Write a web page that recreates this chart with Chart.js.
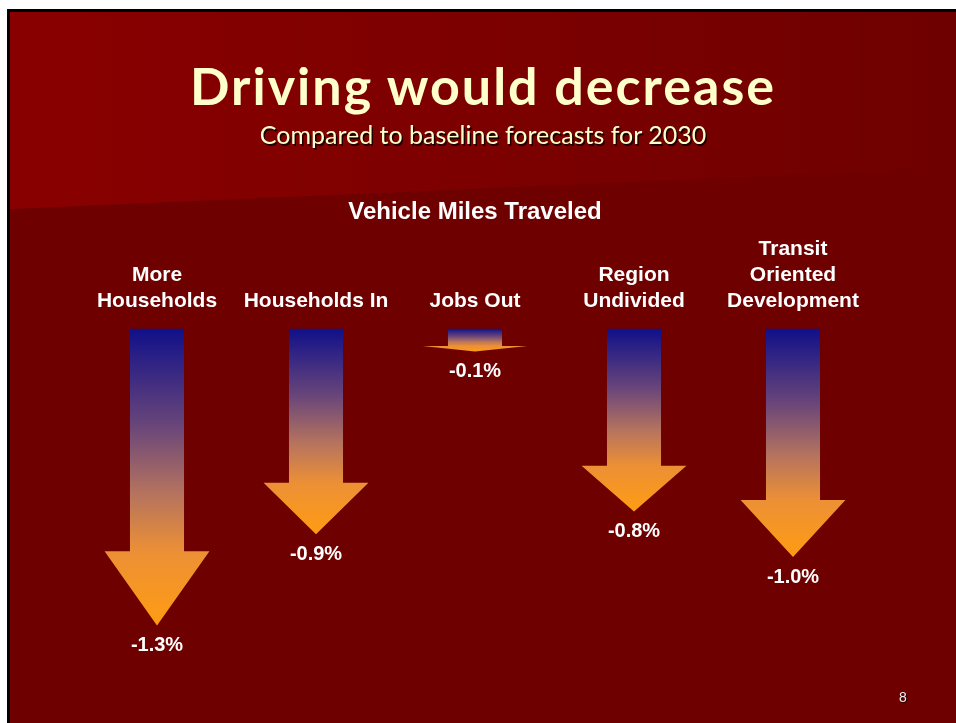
<!DOCTYPE html>
<html>
<head>
<meta charset="utf-8">
<title>Driving would decrease</title>
<script src="https://cdn.jsdelivr.net/npm/chart.js@4"></script>
<style>
  html, body { margin: 0; padding: 0; background: #fff; }
  #wrap { position: relative; width: 956px; height: 723px; overflow: hidden; }
  #myChart { position: absolute; left: 0; top: 0; }
  .heading { position: absolute; left: 10px; width: 946px; text-align: center; color: #ffffcc; font-family: Lato, "Open Sans", sans-serif; }
  #title { top: 54px; font-size: 52px; font-weight: 700; letter-spacing: 2px; }
  #subtitle { top: 119px; font-size: 25px; text-shadow: 1.5px 1.5px 0 #1a0000; }
  #pageNum { position: absolute; left: 899px; top: 689px; font: 14px "Liberation Sans", Arial, sans-serif; color: #eee; text-shadow: 1px 1px 0 #200; }
</style>
</head>
<body>
<div id="wrap">
  <canvas id="myChart" width="956" height="723"></canvas>
  <div class="heading" id="title">Driving would decrease</div>
  <div class="heading" id="subtitle">Compared to baseline forecasts for 2030</div>
  <div id="pageNum">8</div>
</div>
<script>
'use strict';

// ** DATA **

let chartTitle = 'Vehicle Miles Traveled';
let scenarios = [
  ['More', 'Households'],
  'Households In',
  'Jobs Out',
  ['Region', 'Undivided'],
  ['Transit', 'Oriented', 'Development']
];
let vmtChange = [-1.3, -0.9, -0.1, -0.8, -1.0]; // percent change vs 2030 baseline

// ** PLUGINS **

// slide background: dark red with a lighter wedge up top
let slideBackground = {
  id: 'slideBackground',
  beforeDraw(chart) {
    let c = chart.ctx;
    c.save();
    c.fillStyle = '#ffffff';
    c.fillRect(0, 0, 956, 723);
    c.fillStyle = '#000000';
    c.fillRect(7, 9, 949, 714);
    c.fillStyle = '#6e0000';
    c.fillRect(10, 12, 946, 711);

    let wedge = c.createLinearGradient(10, 0, 956, 0);
    wedge.addColorStop(0, '#8a0000');
    wedge.addColorStop(1, '#6f0000');
    c.fillStyle = wedge;
    c.beginPath();
    c.moveTo(10, 12);
    c.lineTo(956, 12);
    c.lineTo(956, 168);
    c.lineTo(10, 209);
    c.closePath();
    c.fill();
    c.restore();
  }
};

// draws each bar as a down arrow, using the bar's own geometry
let arrowBars = {
  id: 'arrowBars',
  afterDatasetsDraw(chart) {
    let c = chart.ctx;
    let meta = chart.getDatasetMeta(0);
    c.save();
    meta.data.forEach(function (bar, i) {
      let p = bar.getProps(['x', 'y', 'base', 'width'], true);
      let len = p.y - p.base;
      let headH = len * 0.25;
      let half = p.width / 2;
      let headHalf = p.width * 0.97;

      let grad = c.createLinearGradient(0, p.base, 0, p.y);
      grad.addColorStop(0, '#10108a');
      grad.addColorStop(0.33, '#6a4679');
      grad.addColorStop(0.55, '#b4725f');
      grad.addColorStop(0.75, '#ec9036');
      grad.addColorStop(1, '#ff9c12');

      c.fillStyle = grad;
      c.beginPath();
      c.moveTo(p.x - half, p.base);
      c.lineTo(p.x + half, p.base);
      c.lineTo(p.x + half, p.y - headH);
      c.lineTo(p.x + headHalf, p.y - headH);
      c.lineTo(p.x, p.y);
      c.lineTo(p.x - headHalf, p.y - headH);
      c.lineTo(p.x - half, p.y - headH);
      c.closePath();
      c.fill();

      // value under the tip
      c.fillStyle = '#ffffff';
      c.font = 'bold 20px "Liberation Sans", Arial, sans-serif';
      c.textAlign = 'center';
      c.textBaseline = 'middle';
      c.fillText(vmtChange[i].toFixed(1) + '%', p.x, p.y + 20);
    });
    c.restore();
  }
};

// ** CHART **

const ctx = document.getElementById('myChart');

let myChartObj = {
  type: 'bar',
  data: {
    labels: scenarios,
    datasets: [{
      label: chartTitle,
      data: vmtChange,
      backgroundColor: 'rgba(0,0,0,0)',
      borderWidth: 0,
      barPercentage: 0.34,
      categoryPercentage: 1
    }]
  },
  options: {
    responsive: false,
    animation: false,
    layout: {
      padding: { top: 198, left: 77.5, right: 83.5, bottom: 97.5 }
    },
    plugins: {
      legend: { display: false },
      tooltip: { enabled: false },
      title: {
        display: true,
        text: chartTitle,
        color: '#ffffff',
        font: { family: '"Liberation Sans", Arial, sans-serif', size: 24, weight: 'bold', lineHeight: 1.2 },
        padding: { top: 0, bottom: 2 }
      }
    },
    scales: {
      x: {
        position: 'top',
        grid: { display: false },
        border: { display: false },
        ticks: {
          color: '#ffffff',
          font: { family: '"Liberation Sans", Arial, sans-serif', size: 21, weight: 'bold', lineHeight: 1.238 },
          padding: 7,
          maxRotation: 0,
          autoSkip: false
        }
      },
      y: {
        display: false,
        min: -1.3,
        max: 0
      }
    }
  },
  plugins: [slideBackground, arrowBars]
};

new Chart(ctx, myChartObj);
</script>
</body>
</html>
